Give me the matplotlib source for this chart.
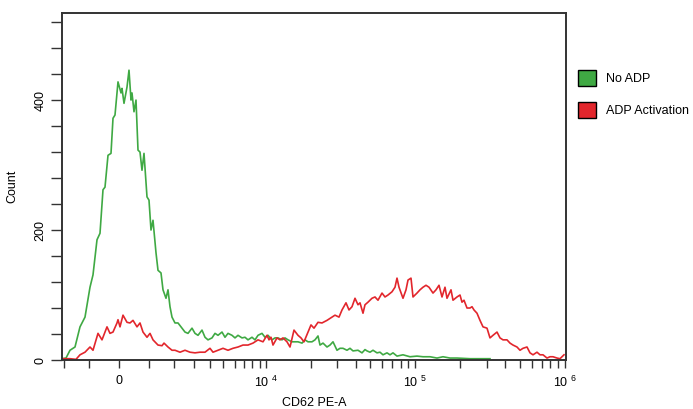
import numpy as np
import matplotlib
matplotlib.use("Agg")
import matplotlib.pyplot as plt
from matplotlib.patches import Patch

plt.rcParams['font.family'] = ['Liberation Sans', 'DejaVu Sans']
plt.rcParams['mathtext.fontset'] = 'custom'
plt.rcParams['mathtext.rm'] = 'Liberation Sans'

# histogram channels (transformed display scale, 252 channels) and counts
green_chan = [0, 2, 4, 6.5, 9, 11.5, 14, 15.5, 17.5, 19, 20.5, 21.5, 23, 24.5, 25.5, 26.5,
              28, 29.5, 30, 31, 32.5, 33.5, 34.5, 35, 36, 37, 38, 39, 40, 41, 42.5, 43.5,
              44.5, 45.5, 47, 48, 49.5, 50.5, 52, 53, 54, 55, 56.5, 58, 60, 61.5, 63, 65,
              66.5, 68, 70, 71.5, 73, 75, 76.5, 78, 80, 81.5, 83, 85, 86.5, 88, 90, 91.5,
              93, 95, 96.5, 98, 100, 101.5, 103, 105, 106.5, 108, 110, 111.5, 113, 115,
              116.5, 118, 120, 121.5, 123, 125, 126.5, 128, 129, 130.5, 132.5, 134, 135.5,
              137.5, 139, 140.5, 142.5, 144, 145.5, 148, 150, 151.5, 152.5, 154, 155.5,
              157.5, 159, 160.5, 162.5, 164, 165.5, 167.5, 170.5, 174, 177.5, 180.5, 184,
              187.5, 190.5, 194, 197.5, 204, 214]
green_count = [2, 3, 15, 20, 51, 66, 112, 131, 185, 195, 262, 266, 315, 318, 372, 377,
               428, 411, 418, 395, 420, 446, 400, 411, 382, 400, 323, 320, 292, 318, 251, 246,
               200, 215, 165, 138, 134, 108, 95, 108, 82, 66, 57, 57, 49, 43, 41, 49,
               41, 38, 46, 35, 31, 34, 41, 38, 43, 35, 41, 38, 34, 38, 34, 35,
               31, 35, 31, 38, 41, 35, 38, 31, 34, 34, 31, 34, 31, 28,
               28, 28, 26, 31, 28, 28, 31, 37, 23, 26, 20, 23, 28,
               15, 18, 18, 15, 18, 14, 15, 11, 16, 14, 12, 15,
               11, 12, 8, 11, 8, 11, 6, 8, 5, 6, 5, 5,
               3, 5, 3, 3, 2, 2]

red_chan = [0, 4, 7, 9, 11.5, 14, 15.5, 18, 20, 22.5, 24, 25.5, 27.5, 28, 29, 30.5, 32.5,
            34, 35.5, 37.5, 39, 40.5, 42.5, 44, 45.5, 48, 50, 51, 53, 55, 56.5, 59, 61.5,
            64, 66.5, 69, 71.5, 74, 75.5, 78, 80.5, 83, 85.5, 88, 90.5, 93, 95.5, 98,
            100.5, 102.5, 103.5, 104.5, 105.5, 107.5, 109, 110.5, 112.5, 114, 116, 118,
            119.5, 121, 123, 124.5, 126, 128, 130, 132.5, 134.5, 136.5, 138.5, 140, 142,
            143.5, 145, 146.5, 148, 149, 150.5, 151.5, 153, 155, 156.5, 158, 160, 161.5,
            163, 165, 166.5, 167.5, 168.5, 170.5, 172, 173, 174.5, 175.5, 177.5, 179,
            180.5, 182, 183.5, 185.5, 187, 188.5, 190, 191.5, 192.5, 194.5, 195.5, 197.5,
            199, 200, 201, 202.5, 204, 205, 206, 207.5, 209, 210.5, 212.5, 214, 215.5,
            217.5, 219, 220.5, 222.5, 224, 225.5, 227.5, 229, 230.5, 232.5, 234, 235.5,
            237.5, 239, 240.5, 242.5, 244, 245.5, 247.5, 249, 250, 251]
red_count = [2, 2, 1, 8, 12, 20, 15, 41, 31, 51, 41, 43, 57, 62, 51, 69, 58,
             57, 61, 51, 57, 43, 35, 41, 31, 23, 22, 26, 20, 15, 15, 12, 15,
             12, 11, 12, 12, 18, 12, 15, 18, 15, 18, 20, 23, 23, 26, 31,
             28, 38, 31, 35, 23, 34, 31, 34, 28, 20, 46, 38,
             34, 28, 43, 54, 49, 58, 57, 61, 65, 69, 66, 77, 88,
             77, 82, 95, 85, 88, 72, 85, 89, 95, 97, 92, 103, 97,
             100, 105, 112, 126, 112, 95, 108, 123, 126, 97, 103, 108,
             112, 115, 112, 103, 108, 115, 97, 112, 95, 108, 92, 97,
             100, 89, 92, 80, 80, 82, 77, 72, 61, 51, 49, 34, 38,
             43, 34, 31, 31, 26, 23, 20, 15, 18, 20, 11, 8,
             12, 8, 8, 3, 5, 5, 3, 2, 5, 8]

major_vals = [0, 1e4, 1e5, 1e6]
major_labels = ['0', '10 $^{4}$', '10 $^{5}$', '10 $^{6}$']
minor_vals = ([-2000, -1000] + [k * 1000 for k in range(1, 10)]
              + [k * 1e4 for k in range(2, 10)] + [k * 1e5 for k in range(2, 10)])

# biexponential-ish display transform: value -> channel
C0, SLOPE, WIDTH = 28.5, 32.45, 2083.0
def to_chan(v):
    return C0 + SLOPE * np.arcsinh(np.asarray(v, dtype=float) / WIDTH)
def to_val(c):
    return WIDTH * np.sinh((np.asarray(c, dtype=float) - C0) / SLOPE)

fig = plt.figure(figsize=(6.93, 4.09), dpi=100)
ax = fig.add_axes([62 / 693, 49 / 409, 504 / 693, 347 / 409])
ax.set_xscale('function', functions=(to_chan, to_val))

ax.plot(to_val(green_chan), green_count, color='#3fa943', lw=1.2)
ax.plot(to_val(red_chan), red_count, color='#e2262c', lw=1.2)

ax.set_xlim(to_val(0), to_val(252))
ax.set_ylim(0, 534)

ax.set_xticks(major_vals)
ax.set_xticklabels(major_labels)
ax.set_xticks(minor_vals, minor=True)
ax.tick_params(axis='x', which='both', length=6, width=1, colors='#333333',
               labelcolor='black', labelsize=9, pad=4.5)

ax.set_yticks(np.arange(0, 521, 40))
ax.set_yticklabels(['0' if v == 0 else (str(v) if v % 200 == 0 else '') for v in range(0, 521, 40)],
                   rotation=90, va='center')
ax.tick_params(axis='y', length=8, width=1, colors='#333333', labelcolor='black',
               labelsize=9, pad=3)

for s in ax.spines.values():
    s.set_color('#333333')
    s.set_linewidth(1.4)

ax.set_xlabel('CD62 PE-A', fontsize=9, labelpad=5)
ax.set_ylabel('Count', fontsize=9, labelpad=12)

handles = [Patch(facecolor='#3fa943', edgecolor='black', label='No ADP'),
           Patch(facecolor='#e2262c', edgecolor='black', label='ADP Activation')]
fig.legend(handles=handles, loc='upper left', bbox_to_anchor=(573 / 693, 1 - 65 / 409),
           frameon=False, fontsize=9, handlelength=1.4, handleheight=1.6,
           handletextpad=0.8, labelspacing=1.25, borderaxespad=0)

fig.savefig('out.png', dpi=100)
